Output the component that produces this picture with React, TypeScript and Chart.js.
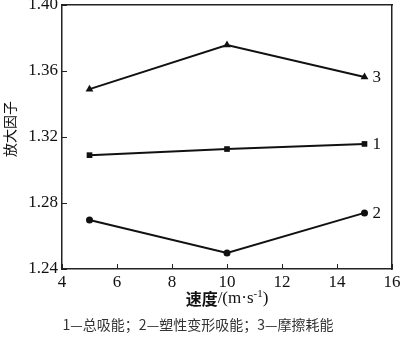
import React, { useEffect, useRef } from "react";
import { Chart, registerables } from "chart.js";
Chart.register(...registerables);

const speeds = [5, 10, 15];
const totalAbsorb = [1.309, 1.3127, 1.3158];
const plasticAbsorb = [1.2697, 1.2497, 1.274];
const frictionLoss = [1.349, 1.3758, 1.3564];
const seriesLabels = ["1", "2", "3"];
const xTicks = [4, 6, 8, 10, 12, 14, 16];
const yTicks = [1.24, 1.28, 1.32, 1.36, 1.4];
const yTitle = "放大因子";
const xTitleMain = "速度";
const xTitleUnit = "/(m·s";
const xTitleSup = "-1";
const caption = "1—总吸能；2—塑性变形吸能；3—摩擦耗能";

const SERIF = "Liberation Serif";
const CJK = "Noto Sans CJK SC";

const textPlugin = {
  id: "texts",
  afterDraw(chart: any) {
    const ctx = chart.ctx;
    const xs = chart.scales.x;
    const ys = chart.scales.y;
    const area = chart.chartArea;
    ctx.save();
    // inward ticks
    ctx.strokeStyle = "#222";
    ctx.lineWidth = 1;
    xTicks.forEach((v) => {
      const px = Math.round(xs.getPixelForValue(v)) + 0.5;
      ctx.beginPath();
      ctx.moveTo(px, area.bottom);
      ctx.lineTo(px, area.bottom - 5);
      ctx.stroke();
    });
    yTicks.forEach((v) => {
      const py = Math.round(ys.getPixelForValue(v)) + 0.5;
      ctx.beginPath();
      ctx.moveTo(area.left, py);
      ctx.lineTo(area.left + 5, py);
      ctx.stroke();
    });
    // series labels
    ctx.fillStyle = "#111";
    ctx.font = `17px "${SERIF}", serif`;
    ctx.textBaseline = "middle";
    ctx.textAlign = "left";
    chart.data.datasets.forEach((ds: any, i: number) => {
      const meta = chart.getDatasetMeta(i);
      const last = meta.data[meta.data.length - 1];
      ctx.fillText(ds.label, last.x + 8, last.y + 1);
    });
    // y title
    ctx.save();
    ctx.translate(10, 129);
    ctx.rotate(-Math.PI / 2);
    ctx.textAlign = "center";
    ctx.font = `14px "${CJK}", sans-serif`;
    ctx.fillStyle = "#111";
    ctx.fillText(yTitle, 0, 0);
    ctx.restore();
    // x title (composed)
    ctx.textAlign = "left";
    const fMain = `bold 16px "${CJK}", sans-serif`;
    const fUnit = `17px "${SERIF}", serif`;
    const fSup = `11px "${SERIF}", serif`;
    ctx.font = fMain;
    const wMain = ctx.measureText(xTitleMain).width;
    ctx.font = fUnit;
    const wUnit = ctx.measureText(xTitleUnit).width;
    const wClose = ctx.measureText(")").width;
    ctx.font = fSup;
    const wSup = ctx.measureText(xTitleSup).width;
    const total = wMain + wUnit + wSup + wClose;
    let x0 = (area.left + area.right) / 2 - total / 2;
    const yT = 299;
    ctx.font = fMain;
    ctx.fillText(xTitleMain, x0, yT);
    x0 += wMain;
    ctx.font = fUnit;
    ctx.fillText(xTitleUnit, x0, yT);
    x0 += wUnit;
    ctx.font = fSup;
    ctx.fillText(xTitleSup, x0, yT - 5);
    x0 += wSup;
    ctx.font = fUnit;
    ctx.fillText(")", x0, yT);
    // caption
    ctx.textAlign = "center";
    ctx.font = `14px "${CJK}", sans-serif`;
    ctx.fillStyle = "#333";
    ctx.fillText(caption, 198, 325);
    ctx.restore();
  },
};

export default function App() {
  const ref = useRef<HTMLCanvasElement>(null);
  useEffect(() => {
    const mk = (label: string, data: number[], style: any, radius: number) => ({
      label,
      data: speeds.map((x, i) => ({ x, y: data[i] })),
      borderColor: "#111",
      backgroundColor: "#111",
      borderWidth: 2,
      pointStyle: style,
      pointRadius: radius,
      pointBorderWidth: 0,
    });
    const border = { display: true, color: "#222", width: 1.5 };
    const chart = new Chart(ref.current!, {
      type: "line",
      data: {
        datasets: [
          mk(seriesLabels[0], totalAbsorb, "rect", 4),
          mk(seriesLabels[1], plasticAbsorb, "circle", 3.5),
          mk(seriesLabels[2], frictionLoss, "triangle", 4.5),
        ],
      },
      options: {
        animation: false,
        responsive: false,
        layout: { padding: { top: 5, right: 8, left: 0, bottom: 0 } },
        plugins: { legend: { display: false }, tooltip: { enabled: false } },
        scales: {
          x: {
            type: "linear",
            min: 4,
            max: 16,
            afterBuildTicks: (s: any) => {
              s.ticks = xTicks.map((v) => ({ value: v }));
            },
            afterFit: (s: any) => {
              s.height = 72;
              s.paddingLeft = 0;
              s.paddingRight = 0;
            },
            grid: { display: false, drawTicks: false },
            border,
            ticks: {
              color: "#111",
              padding: 3,
              font: { family: SERIF, size: 17 },
              maxRotation: 0,
            },
          },
          y: {
            type: "linear",
            min: 1.24,
            max: 1.4,
            afterBuildTicks: (s: any) => {
              s.ticks = yTicks.map((v) => ({ value: v }));
            },
            afterFit: (s: any) => {
              s.width = 62;
              s.paddingTop = 0;
              s.paddingBottom = 0;
            },
            grid: { display: false, drawTicks: false },
            border,
            ticks: {
              color: "#111",
              padding: 4,
              font: { family: SERIF, size: 17 },
              callback: (v: any) => Number(v).toFixed(2),
            },
          },
          x2: {
            type: "linear",
            position: "top",
            min: 4,
            max: 16,
            grid: { display: false, drawTicks: false },
            border,
            ticks: { display: false },
            afterFit: (s: any) => {
              s.height = 0;
              s.paddingLeft = 0;
              s.paddingRight = 0;
            },
          },
          y2: {
            type: "linear",
            position: "right",
            min: 1.24,
            max: 1.4,
            grid: { display: false, drawTicks: false },
            border,
            ticks: { display: false },
            afterFit: (s: any) => {
              s.width = 0;
              s.paddingTop = 0;
              s.paddingBottom = 0;
            },
          },
        },
      },
      plugins: [textPlugin],
    } as any);
    return () => chart.destroy();
  }, []);
  return (
    <div style={{ position: "fixed", left: 0, top: 0, width: 400, height: 341, background: "#fff" }}>
      <canvas ref={ref} width={400} height={341} style={{ display: "block" }} />
    </div>
  );
}
